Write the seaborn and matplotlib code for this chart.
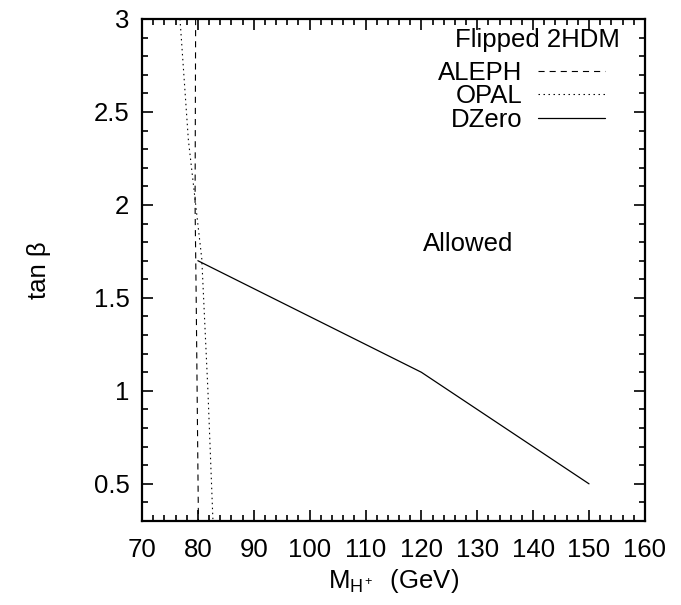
import matplotlib
matplotlib.use("Agg")
import matplotlib.pyplot as plt
import seaborn as sns
import pandas as pd
from matplotlib.ticker import MultipleLocator

# Data
aleph_m = [79.6, 79.5, 79.7, 80.1]
aleph_tb = [3.0, 2.0, 1.5, 0.3]
opal_m = [76.8, 78.3, 80.7, 81.8, 82.7]
opal_tb = [3.0, 2.35, 1.71, 1.0, 0.3]
dzero_m = [80.0, 120.0, 150.0]
dzero_tb = [1.7, 1.1, 0.5]

x_ticks = [70, 80, 90, 100, 110, 120, 130, 140, 150, 160]
y_ticks = [0.5, 1, 1.5, 2, 2.5, 3]
y_ticklabels = ["0.5", "1", "1.5", "2", "2.5", "3"]

sns.set_style("ticks")
plt.rcParams['font.family'] = ['Liberation Sans', 'DejaVu Sans']
plt.rcParams['mathtext.fontset'] = 'custom'
plt.rcParams['mathtext.rm'] = 'Liberation Sans'
plt.rcParams['mathtext.it'] = 'Liberation Sans'
plt.rcParams['text.color'] = 'black'
plt.rcParams['axes.labelcolor'] = 'black'
plt.rcParams['xtick.color'] = 'black'
plt.rcParams['ytick.color'] = 'black'

FS = 18.5

fig = plt.figure(figsize=(6.81, 6.05), dpi=100)
ax = fig.add_axes([0.2085, 0.1388, 0.947 - 0.2085, 0.9686 - 0.1388])

df_a = pd.DataFrame({"m": aleph_m, "tb": aleph_tb})
df_o = pd.DataFrame({"m": opal_m, "tb": opal_tb})
df_d = pd.DataFrame({"m": dzero_m, "tb": dzero_tb})

sns.lineplot(data=df_a, x="m", y="tb", sort=False, estimator=None, color="black",
             lw=0.8, label="ALEPH", ax=ax)
sns.lineplot(data=df_o, x="m", y="tb", sort=False, estimator=None, color="black",
             lw=0.8, label="OPAL", ax=ax)
sns.lineplot(data=df_d, x="m", y="tb", sort=False, estimator=None, color="black",
             lw=0.9, label="DZero", ax=ax)
ax.lines[0].set_linestyle((0, (5.5, 4.5)))
ax.lines[1].set_linestyle((0, (1.3, 3.2)))

ax.set_xlim(70, 160)
ax.set_ylim(0.3, 3.0)
ax.set_xticks(x_ticks)
ax.set_yticks(y_ticks)
ax.set_yticklabels(y_ticklabels)
ax.xaxis.set_minor_locator(MultipleLocator(2))
ax.yaxis.set_minor_locator(MultipleLocator(0.1))
ax.tick_params(which="both", direction="in", top=True, right=True, labelsize=FS,
               width=1.2, color="black", labelcolor="black")
ax.tick_params(which="major", length=8)
ax.tick_params(axis="x", which="major", pad=12)
ax.tick_params(axis="y", which="major", pad=9)
ax.tick_params(which="minor", length=4)
for s in ax.spines.values():
    s.set_linewidth(1.6)
    s.set_color("black")

ax.set_xlabel("M$_{\\mathregular{H^+}}$  (GeV)", fontsize=FS, labelpad=4)
ax.set_ylabel("tan β", fontsize=FS, labelpad=31)

ax.text(128.4, 1.79, "Allowed", fontsize=FS, ha="center", va="center")

ax.text(0.950, 0.958, "Flipped 2HDM", transform=ax.transAxes, fontsize=FS,
        ha="right", va="center")

handles, labels = ax.get_legend_handles_labels()
leg = ax.legend(handles, labels, loc="upper right",
                bbox_to_anchor=(0.920, 0.916), frameon=False, markerfirst=False,
                fontsize=FS, handlelength=2.6, handletextpad=0.6,
                labelspacing=-0.03, borderpad=0.0, borderaxespad=0.0)

fig.savefig("out.png", dpi=100)
